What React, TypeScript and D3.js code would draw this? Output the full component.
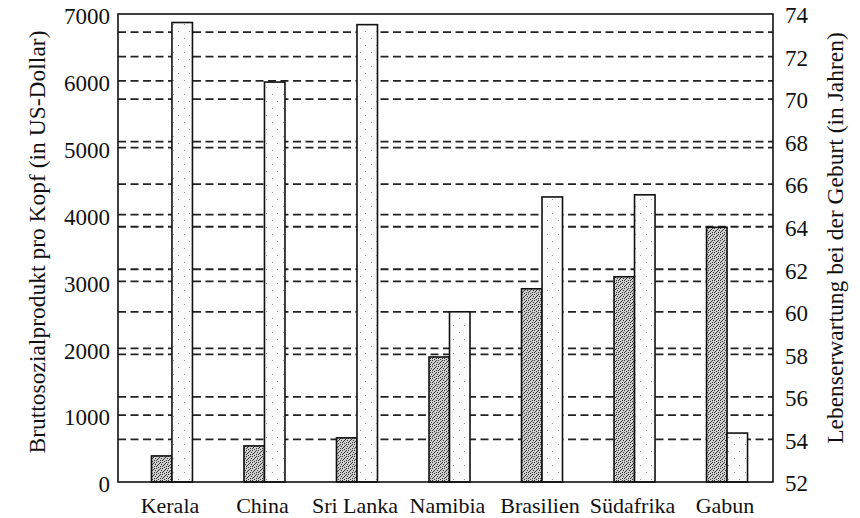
import React from 'react';
import * as d3 from 'd3';

const categories = ['Kerala', 'China', 'Sri Lanka', 'Namibia', 'Brasilien', 'Südafrika', 'Gabun'];
const gnpValues = [390, 540, 660, 1870, 2890, 3070, 3810];
const lifeExpValues = [73.6, 70.8, 73.5, 60.0, 65.4, 65.5, 54.3];
const leftTicks = [0, 1000, 2000, 3000, 4000, 5000, 6000, 7000];
const rightTicks = [52, 54, 56, 58, 60, 62, 64, 66, 68, 70, 72, 74];
const leftGridValues = [1000, 2000, 3000, 4000, 5000, 6000, 6730];
const rightGridValues = [54, 56, 58, 60, 62, 64, 66, 68, 70, 72];
const leftTitle = 'Bruttosozialprodukt pro Kopf (in US-Dollar)';
const rightTitle = 'Lebenserwartung bei der Geburt (in Jahren)';

const W = 860;
const H = 518;
const X0 = 118;
const X1 = 773;
const Y0 = 14;
const Y1 = 482;
const BW = 20.5;
const FONT = '"Liberation Serif", "DejaVu Serif", serif';

export default function App() {
  const x = d3.scalePoint<string>().domain(categories).range([X0 + 4, X1 + 4]).padding(0.54);
  const yL = d3.scaleLinear().domain([0, 7000]).range([Y1, Y0]);
  const yR = d3.scaleLinear().domain([52, 74]).range([Y1, Y0]);

  const darkDots: [number, number][] = [
    [0, 0], [3, 1], [1, 3], [4, 4], [2, 5], [5, 2], [0, 4], [4, 0], [2, 2],
  ];
  const lightDots: [number, number][] = [[2, 3], [8, 10]];

  return (
    <svg width={W} height={H} style={{ position: 'absolute', left: 0, top: 0, background: '#fff' }}>
      <defs>
        <pattern id="dark" width={6} height={6} patternUnits="userSpaceOnUse">
          <rect width={6} height={6} fill="#cfcfcf" />
          {darkDots.map((d, i) => (
            <rect key={i} x={d[0]} y={d[1]} width={1} height={1} fill="#333" />
          ))}
        </pattern>
        <pattern id="light" width={11} height={14} patternUnits="userSpaceOnUse">
          <rect width={11} height={14} fill="#fbfbfb" />
          {lightDots.map((d, i) => (
            <rect key={i} x={d[0]} y={d[1]} width={1} height={1} fill="#999" />
          ))}
        </pattern>
      </defs>
      <rect width={W} height={H} fill="#fff" />
      {leftGridValues.map((v) => (
        <line key={'gl' + v} x1={X0} x2={X1} y1={yL(v)} y2={yL(v)} stroke="#222" strokeWidth={1.8} strokeDasharray="8 4.5" />
      ))}
      {rightGridValues.map((v) => (
        <line key={'gr' + v} x1={X0} x2={X1} y1={yR(v)} y2={yR(v)} stroke="#222" strokeWidth={1.8} strokeDasharray="8 4.5" />
      ))}
      {categories.map((c, i) => {
        const cx = x(c) as number;
        return (
          <g key={c}>
            <rect x={cx - BW} y={yL(gnpValues[i])} width={BW} height={Y1 - yL(gnpValues[i])} fill="url(#dark)" stroke="#111" strokeWidth={1.6} />
            <rect x={cx} y={yR(lifeExpValues[i])} width={BW} height={Y1 - yR(lifeExpValues[i])} fill="url(#light)" stroke="#111" strokeWidth={1.6} />
          </g>
        );
      })}
      <rect x={X0} y={Y0} width={X1 - X0} height={Y1 - Y0} fill="none" stroke="#111" strokeWidth={1.6} />
      {leftTicks.map((v) => (
        <text key={'tl' + v} x={110} y={yL(v) + 5} textAnchor="end" dominantBaseline="middle" fontFamily={FONT} fontSize={23} fill="#111">
          {v}
        </text>
      ))}
      {rightTicks.map((v) => (
        <text key={'tr' + v} x={785} y={yR(v) + 4} textAnchor="start" dominantBaseline="middle" fontFamily={FONT} fontSize={23} fill="#111">
          {v}
        </text>
      ))}
      {categories.map((c) => (
        <text key={'c' + c} x={(x(c) as number) - 2} y={513} textAnchor="middle" fontFamily={FONT} fontSize={22} fill="#111">
          {c}
        </text>
      ))}
      <text transform={`translate(45, 242) rotate(-90)`} textAnchor="middle" fontFamily={FONT} fontSize={23.5} fill="#111">
        {leftTitle}
      </text>
      <text transform={`translate(843, 238) rotate(-90)`} textAnchor="middle" fontFamily={FONT} fontSize={23.5} fill="#111">
        {rightTitle}
      </text>
    </svg>
  );
}
